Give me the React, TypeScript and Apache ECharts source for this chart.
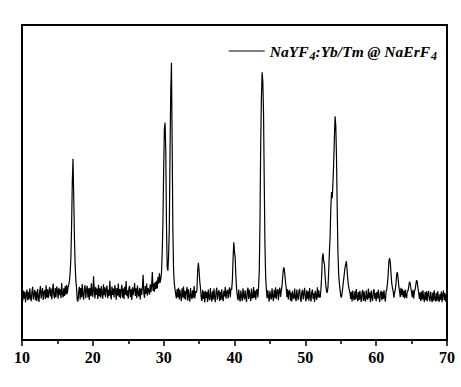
import React, { useEffect, useRef } from "react";
import * as echarts from "echarts";

// 2θ sampling of the pattern (degrees)
const angleStart = 10;
const angleStep = 0.1;

// Intensity (a.u.), one row per degree
const int10to20 = [
  14.2, 12.3, 15.6, 13.1, 15.4, 12.0, 14.4, 16.0, 12.6, 15.2,
  12.9, 16.4, 13.6, 12.3, 15.3, 16.9, 12.9, 14.6, 15.9, 12.6,
  15.4, 12.4, 16.2, 13.7, 12.1, 15.5, 17.1, 13.2, 15.1, 16.5,
  12.7, 15.3, 15.8, 13.0, 17.4, 13.4, 16.1, 13.3, 15.4, 16.8,
  13.8, 16.3, 12.9, 15.6, 17.9, 14.0, 13.2, 16.5, 13.6, 17.0,
  15.7, 13.1, 16.6, 14.2, 16.1, 13.3, 18.1, 14.6, 13.5, 16.4,
  14.0, 17.1, 14.4, 17.5, 14.7, 16.8, 17.5, 18.8, 21.5, 26.0,
  36.0, 50.0, 57.5, 46.0, 33.0, 24.0, 19.0, 16.5, 12.6, 12.2,
  15.4, 16.9, 12.9, 16.5, 13.6, 17.8, 14.1, 12.8, 16.2, 17.4,
  13.3, 15.8, 17.2, 13.5, 16.4, 12.7, 16.6, 13.9, 18.0, 14.4,
];
const int20to30 = [
  13.7, 20.2, 16.0, 13.2, 16.8, 14.3, 16.3, 13.0, 17.5, 13.8,
  16.4, 13.4, 17.1, 14.5, 13.1, 17.7, 14.2, 16.7, 13.6, 16.1,
  17.3, 13.3, 15.9, 14.0, 18.8, 14.4, 12.9, 17.0, 14.3, 16.3,
  13.5, 17.4, 15.8, 12.8, 16.5, 14.1, 17.9, 13.7, 16.2, 13.2,
  16.0, 17.5, 13.4, 16.3, 13.0, 16.9, 14.4, 18.7, 13.9, 15.8,
  13.1, 16.5, 17.2, 13.6, 16.1, 12.7, 16.7, 14.2, 15.9, 18.1,
  14.0, 16.4, 13.3, 17.3, 14.5, 13.8, 16.6, 12.9, 16.3, 14.3,
  16.8, 20.7, 14.8, 13.4, 17.1, 14.6, 17.9, 14.1, 16.5, 15.8,
  14.4, 17.7, 15.2, 17.2, 21.6, 15.6, 18.0, 15.3, 18.4, 16.2,
  18.8, 16.4, 20.0, 17.9, 21.2, 18.2, 19.5, 21.5, 28.0, 38.0,
];
const int30to40 = [
  54.0, 67.0, 69.0, 60.0, 36.0, 23.0, 22.0, 27.0, 36.0, 60.0,
  79.0, 88.0, 62.0, 35.0, 22.0, 18.0, 16.2, 14.5, 13.2, 16.2,
  13.6, 16.6, 12.9, 15.9, 14.1, 12.3, 16.4, 13.5, 17.0, 13.1,
  15.6, 12.8, 15.4, 16.8, 12.5, 16.1, 13.7, 12.2, 16.5, 13.9,
  13.0, 15.8, 13.4, 17.1, 13.2, 15.5, 15.0, 16.0, 22.0, 24.5,
  22.0, 18.5, 16.5, 13.5, 12.3, 15.9, 13.0, 15.4, 11.9, 15.6,
  13.3, 15.2, 12.1, 16.0, 13.4, 12.6, 16.5, 13.7, 12.2, 15.5,
  12.9, 16.3, 13.6, 12.0, 15.4, 16.6, 12.8, 15.1, 15.8, 12.4,
  15.3, 12.7, 16.1, 13.5, 12.3, 15.6, 13.8, 16.9, 13.1, 15.2,
  15.9, 13.2, 15.5, 16.7, 13.6, 16.2, 16.0, 19.0, 26.0, 31.0,
];
const int40to50 = [
  28.0, 26.0, 20.0, 16.0, 13.9, 12.6, 16.0, 13.4, 12.2, 15.7,
  13.7, 12.4, 16.4, 14.0, 12.9, 15.8, 13.5, 12.1, 15.5, 16.6,
  13.0, 15.9, 13.8, 12.3, 16.3, 13.6, 13.2, 16.8, 13.4, 15.7,
  12.8, 15.4, 16.2, 13.5, 17.0, 22.0, 38.0, 62.0, 77.0, 85.0,
  82.0, 72.0, 50.0, 30.0, 20.0, 16.0, 13.3, 15.8, 13.7, 12.2,
  15.6, 13.5, 12.9, 16.4, 13.8, 12.3, 15.9, 13.4, 16.7, 13.0,
  15.3, 16.1, 12.6, 15.5, 16.6, 13.7, 15.4, 17.0, 20.0, 22.5,
  23.0, 21.0, 18.5, 16.5, 13.6, 16.2, 12.9, 15.4, 15.8, 12.5,
  15.1, 12.2, 15.6, 13.6, 13.0, 16.3, 13.4, 12.3, 16.0, 13.7,
  12.7, 15.5, 16.2, 13.2, 12.1, 15.2, 15.9, 12.9, 14.7, 16.6,
];
const int50to60 = [
  13.4, 12.3, 15.8, 13.1, 15.4, 12.5, 16.5, 13.8, 12.2, 15.2,
  16.0, 13.0, 14.8, 12.1, 15.6, 13.9, 12.7, 16.7, 13.4, 15.8,
  13.7, 13.5, 16.0, 20.0, 26.0, 27.5, 25.0, 24.0, 20.0, 17.0,
  15.5, 15.0, 17.0, 22.0, 28.0, 33.0, 42.0, 47.0, 45.0, 50.0,
  56.0, 64.0, 71.0, 68.0, 58.0, 42.0, 28.0, 21.0, 18.0, 16.0,
  14.0, 13.5, 15.0, 17.0, 19.0, 21.0, 23.0, 24.0, 25.0, 22.0,
  19.0, 17.0, 16.0, 15.0, 13.0, 15.3, 12.2, 15.7, 13.4, 12.6,
  15.5, 12.9, 16.2, 13.6, 12.3, 15.2, 12.7, 15.6, 13.5, 12.1,
  15.0, 15.9, 12.4, 15.4, 13.0, 12.2, 15.8, 13.4, 12.8, 16.3,
  13.3, 15.1, 12.0, 15.7, 13.6, 12.4, 15.4, 16.1, 13.1, 14.9,
];
const int60to70 = [
  12.3, 15.2, 13.2, 15.9, 13.4, 12.1, 15.0, 15.6, 12.6, 15.3,
  13.0, 15.8, 13.5, 12.2, 15.5, 16.0, 18.0, 21.0, 25.0, 26.0,
  24.5, 21.0, 18.0, 16.5, 15.5, 13.4, 15.0, 16.0, 18.0, 21.0,
  21.5, 19.5, 17.0, 15.5, 13.6, 16.6, 14.2, 16.2, 13.7, 15.6,
  13.2, 16.0, 13.9, 13.3, 15.7, 15.5, 17.0, 18.5, 18.0, 16.5,
  15.0, 13.6, 15.9, 13.2, 15.5, 16.0, 17.5, 19.0, 18.5, 16.5,
  15.0, 13.0, 15.1, 12.3, 15.4, 12.8, 15.8, 13.3, 12.1, 15.2,
  12.7, 15.5, 12.2, 14.8, 15.6, 12.9, 12.3, 15.3, 13.2, 12.0,
  15.1, 12.5, 15.8, 13.1, 12.2, 15.0, 12.4, 15.5, 13.0, 12.1,
  14.6, 12.7, 15.4, 12.0, 14.5, 15.7, 12.6, 14.9, 12.2, 14.5,
  13.5,
];

const xTicks = [10, 20, 30, 40, 50, 60, 70];
const seriesName = "NaYF4:Yb/Tm @ NaErF4";

export default function App() {
  const ref = useRef<HTMLDivElement>(null);
  useEffect(() => {
    if (!ref.current) return;
    const chart = echarts.init(ref.current, undefined, { renderer: "svg" });
    const intensity = [
      ...int10to20,
      ...int20to30,
      ...int30to40,
      ...int40to50,
      ...int50to60,
      ...int60to70,
    ];
    const data = intensity.map((v, i) => [
      Math.round((angleStart + i * angleStep) * 10) / 10,
      v,
    ]);
    const serif = "'Liberation Serif', 'Times New Roman', serif";
    chart.setOption({
      animation: false,
      backgroundColor: "#fff",
      grid: {
        left: 22,
        right: 14,
        top: 25,
        bottom: 47,
        show: true,
        borderColor: "#000",
        borderWidth: 2,
        containLabel: false,
      },
      legend: {
        right: 19,
        top: 38,
        itemWidth: 36,
        itemHeight: 14,
        itemGap: 5,
        itemStyle: { opacity: 0 },
        lineStyle: { color: "#000", width: 1 },
        data: [{ name: seriesName }],
        formatter: () => "{a|NaYF}{s|4}{a|:Yb/Tm @ NaErF}{s|4}",
        textStyle: {
          rich: {
            a: {
              fontFamily: serif,
              fontStyle: "italic",
              fontWeight: "bold",
              fontSize: 15.5,
              color: "#000",
            },
            s: {
              fontFamily: serif,
              fontStyle: "italic",
              fontWeight: "bold",
              fontSize: 12,
              color: "#000",
              padding: [9, 0, 0, 1],
            },
          },
        },
      },
      xAxis: {
        type: "value",
        min: xTicks[0],
        max: xTicks[xTicks.length - 1],
        interval: 10,
        axisLine: { show: true, lineStyle: { color: "#000", width: 2 } },
        axisTick: { show: true, length: 6, lineStyle: { color: "#000", width: 1.5 } },
        minorTick: { show: true, splitNumber: 2, length: 4, lineStyle: { color: "#000", width: 1.5 } },
        splitLine: { show: false },
        axisLabel: {
          margin: 9,
          color: "#000",
          fontFamily: serif,
          fontWeight: "bold",
          fontSize: 16,
        },
      },
      yAxis: {
        type: "value",
        min: 0,
        max: 100,
        axisLine: { show: true, lineStyle: { color: "#000", width: 2 } },
        axisTick: { show: false },
        axisLabel: { show: false },
        splitLine: { show: false },
      },
      series: [
        {
          name: seriesName,
          type: "line",
          data,
          symbol: "none",
          showSymbol: false,
          lineStyle: { color: "#000", width: 1.2 },
          itemStyle: { color: "#000" },
        },
      ],
    });
    return () => chart.dispose();
  }, []);
  return (
    <div
      ref={ref}
      style={{ position: "absolute", left: 0, top: 0, width: 461, height: 387 }}
    />
  );
}
